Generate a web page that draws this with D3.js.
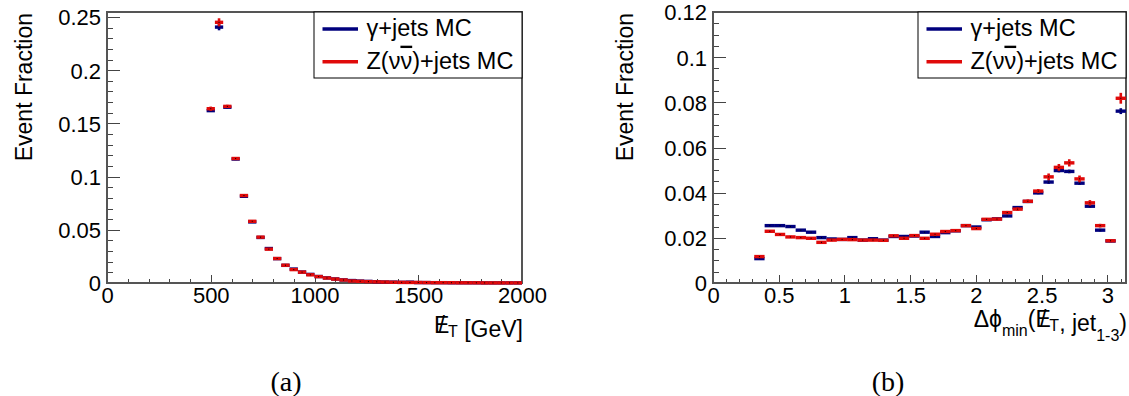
<!DOCTYPE html>
<html lang="en">
  <head>
    <meta charset="utf-8">
    <title>Event Fraction: gamma+jets vs Z(nunu)+jets</title>
    <script src="https://cdnjs.cloudflare.com/ajax/libs/d3/7.8.5/d3.min.js"></script>
    <style>
      html, body {
        padding: 0px;
        margin: 0px;
        background: #fff;
      }
      svg {
        font-family: "Liberation Sans", Arial, sans-serif;
        display: block;
      }
      .axis path { display: none; }
      .axis line { stroke: #444; stroke-width: 1; shape-rendering: crispEdges; }
      .axis text { font-size: 22px; fill: #000; }
      .frame { fill: none; stroke: #555; stroke-width: 1.2; shape-rendering: crispEdges; }
      .caption { font-family: "Liberation Serif", "DejaVu Serif", serif; font-size: 28px; }
    </style>
  </head>
  <body>
    <div id="chart"></div>
    <script>
      // ---- data ----
      // (a) missing ET, 40 GeV bins (centres)
      var metBins = [500, 540, 580, 620, 660, 700, 740, 780, 820, 860, 900, 940, 980, 1020, 1060,
                     1100, 1140, 1180, 1220, 1260, 1300, 1340, 1380, 1420, 1460, 1500, 1540, 1580,
                     1620, 1660, 1700, 1740, 1780, 1820, 1860, 1900, 1940, 1980];
      var metBinWidth = 40;
      var metGamma = [0.1620, 0.2405, 0.1652, 0.1165, 0.0815, 0.0574, 0.0428, 0.0324, 0.0229, 0.0166,
                      0.0131, 0.0103, 0.0081, 0.0061, 0.0048, 0.0038, 0.0029, 0.0023, 0.0018, 0.0015,
                      0.0011, 0.0009, 0.0008, 0.0006, 0.0008, 0.0004, 0.0004, 0.0003, 0.0003, 0.0002,
                      0.0002, 0.0002, 0.0002, 0.0001, 0.0001, 0.0001, 0.0001, 0.0001];
      var metZnn =   [0.1638, 0.2450, 0.1660, 0.1170, 0.0822, 0.0580, 0.0431, 0.0318, 0.0230, 0.0167,
                      0.0126, 0.0102, 0.0077, 0.0060, 0.0047, 0.0037, 0.0028, 0.0019, 0.0016, 0.0013,
                      0.0011, 0.0009, 0.0007, 0.0006, 0.0005, 0.0005, 0.0004, 0.0003, 0.0003, 0.0003,
                      0.0002, 0.0002, 0.0002, 0.0001, 0.0001, 0.0001, 0.0001, 0.0001];
      var metGammaErr = [0.0012, 0.0030, 0.0012, 0.0010, 0.0008, 0.0006, 0.0005, 0.0004, 0.0003, 0.0003,
                         0.0002, 0.0002, 0.0002, 0.0002, 0.0001, 0.0001, 0.0001, 0.0001, 0.0001, 0.0001,
                         0.0001, 0.0001, 0.0001, 0.0001, 0.0001, 0.0001, 0.0001, 0.0001, 0.0001, 0.0001,
                         0.0001, 0.0001, 0.0001, 0.0001, 0.0001, 0.0001, 0.0001, 0.0001];
      var metZnnErr =   [0.0020, 0.0038, 0.0015, 0.0012, 0.0010, 0.0008, 0.0006, 0.0005, 0.0004, 0.0003,
                         0.0003, 0.0002, 0.0002, 0.0002, 0.0001, 0.0001, 0.0001, 0.0001, 0.0001, 0.0001,
                         0.0001, 0.0001, 0.0001, 0.0001, 0.0001, 0.0001, 0.0001, 0.0001, 0.0001, 0.0001,
                         0.0001, 0.0001, 0.0001, 0.0001, 0.0001, 0.0001, 0.0001, 0.0001];

      // (b) delta phi min, pi/40 bins (centres)
      var dphiBins = [0.353, 0.432, 0.510, 0.589, 0.668, 0.746, 0.825, 0.903, 0.982, 1.060, 1.139, 1.217,
                      1.296, 1.374, 1.453, 1.532, 1.610, 1.689, 1.767, 1.846, 1.924, 2.003, 2.081, 2.160,
                      2.238, 2.317, 2.395, 2.474, 2.553, 2.631, 2.710, 2.788, 2.867, 2.945, 3.024, 3.102];
      var dphiBinWidth = Math.PI / 40;
      var dphiGamma = [0.0108, 0.0254, 0.0254, 0.0250, 0.0234, 0.0225, 0.0201, 0.0195, 0.0193, 0.0201,
                       0.0190, 0.0196, 0.0190, 0.0206, 0.0206, 0.0208, 0.0225, 0.0206, 0.0223, 0.0231,
                       0.0254, 0.0248, 0.0280, 0.0284, 0.0297, 0.0334, 0.0361, 0.0399, 0.0447, 0.0498,
                       0.0494, 0.0442, 0.0340, 0.0234, 0.0186, 0.0761];
      var dphiZnn =   [0.0117, 0.0229, 0.0215, 0.0204, 0.0201, 0.0198, 0.0180, 0.0190, 0.0193, 0.0192,
                       0.0190, 0.0190, 0.0189, 0.0209, 0.0198, 0.0210, 0.0198, 0.0216, 0.0228, 0.0232,
                       0.0254, 0.0241, 0.0282, 0.0283, 0.0312, 0.0327, 0.0362, 0.0407, 0.0470, 0.0512,
                       0.0532, 0.0461, 0.0355, 0.0254, 0.0187, 0.0818];
      var dphiGammaErr = [0.0004, 0.0004, 0.0004, 0.0004, 0.0004, 0.0004, 0.0004, 0.0004, 0.0004, 0.0004,
                          0.0004, 0.0004, 0.0004, 0.0004, 0.0004, 0.0004, 0.0004, 0.0004, 0.0004, 0.0004,
                          0.0004, 0.0004, 0.0005, 0.0005, 0.0005, 0.0005, 0.0006, 0.0006, 0.0008, 0.0008,
                          0.0008, 0.0008, 0.0007, 0.0006, 0.0005, 0.0013];
      var dphiZnnErr =   [0.0005, 0.0005, 0.0005, 0.0005, 0.0005, 0.0005, 0.0005, 0.0005, 0.0005, 0.0005,
                          0.0005, 0.0005, 0.0005, 0.0005, 0.0005, 0.0005, 0.0005, 0.0005, 0.0005, 0.0005,
                          0.0005, 0.0005, 0.0006, 0.0006, 0.0007, 0.0007, 0.0008, 0.0009, 0.0015, 0.0015,
                          0.0016, 0.0015, 0.0012, 0.0008, 0.0006, 0.0024];

      var seriesNames = ["\u03b3+jets MC", "Z(\u03bd\u03bd)+jets MC"];
      var seriesColors = ["#00007d", "#e00a0a"];

      var metXTicks = [0, 500, 1000, 1500, 2000];
      var metYTicks = [0, 0.05, 0.1, 0.15, 0.2, 0.25];
      var dphiXTicks = [0, 0.5, 1, 1.5, 2, 2.5, 3];
      var dphiYTicks = [0, 0.02, 0.04, 0.06, 0.08, 0.1, 0.12];

      var W = 1129, H = 396;
      var svg = d3.select("#chart").append("svg")
        .attr("width", W)
        .attr("height", H);
      svg.append("rect").attr("width", W).attr("height", H).attr("fill", "#fff");

      function drawPanel(p) {
        var x = d3.scaleLinear().domain(p.xDomain).range([p.left, p.right]);
        var y = d3.scaleLinear().domain(p.yDomain).range([p.bottom, p.top]);
        var g = svg.append("g");

        // minor + major ticks, pointing into the frame (ROOT style)
        g.append("g").attr("class", "axis")
          .attr("transform", "translate(0," + p.bottom + ")")
          .call(d3.axisBottom(x).tickValues(p.xMinor).tickSize(-4).tickSizeOuter(0).tickFormat(""));
        g.append("g").attr("class", "axis")
          .attr("transform", "translate(0," + p.bottom + ")")
          .call(d3.axisBottom(x).tickValues(p.xTicks).tickSize(-8).tickSizeOuter(0).tickFormat(function(d) { return String(d); }))
          .selectAll("text").attr("y", 20).attr("dy", 0);
        g.append("g").attr("class", "axis")
          .attr("transform", "translate(" + p.left + ",0)")
          .call(d3.axisLeft(y).tickValues(p.yMinor).tickSize(-6.3).tickSizeOuter(0).tickFormat(""));
        g.append("g").attr("class", "axis")
          .attr("transform", "translate(" + p.left + ",0)")
          .call(d3.axisLeft(y).tickValues(p.yTicks).tickSize(-12.5).tickSizeOuter(0).tickFormat(function(d) { return String(d); }))
          .selectAll("text").attr("x", -6).attr("dy", "0.36em");

        g.append("rect").attr("class", "frame")
          .attr("x", p.left).attr("y", p.top)
          .attr("width", p.right - p.left).attr("height", p.bottom - p.top);

        // histogram points: bin-wide bar, vertical error, tiny marker
        p.series.forEach(function(s, si) {
          var col = seriesColors[si];
          var pts = p.bins.map(function(c, i) { return { c: c, v: s.values[i], e: s.errors[i] }; });
          var sg = g.append("g");
          sg.selectAll(".bar").data(pts).enter().append("rect")
            .attr("x", function(d) { return x(d.c - p.binWidth / 2); })
            .attr("width", function(d) { return x(d.c + p.binWidth / 2) - x(d.c - p.binWidth / 2); })
            .attr("y", function(d) { return y(d.v) - 1.7; })
            .attr("height", 3.4)
            .attr("fill", col);
          sg.selectAll(".err").data(pts).enter().append("rect")
            .attr("x", function(d) { return x(d.c) - 1.3; })
            .attr("width", 2.6)
            .attr("y", function(d) { return y(d.v + d.e); })
            .attr("height", function(d) { return Math.max(0, y(d.v - d.e) - y(d.v + d.e)); })
            .attr("fill", col);
          sg.selectAll(".dot").data(pts).enter().append("rect")
            .attr("x", function(d) { return x(d.c) - 0.5; })
            .attr("y", function(d) { return y(d.v) - 0.5; })
            .attr("width", 1).attr("height", 1)
            .attr("fill", "#000");
        });

        // legend box in the top right corner
        var lx = p.right - 208, ly = p.top;
        g.append("rect")
          .attr("x", lx).attr("y", ly).attr("width", 208).attr("height", 66)
          .attr("fill", "#fff").attr("stroke", "#000").attr("stroke-width", 1);
        seriesNames.forEach(function(name, i) {
          var yy = ly + 17 + i * 32.7;
          g.append("line")
            .attr("x1", lx + 8.5).attr("x2", lx + 44)
            .attr("y1", yy).attr("y2", yy)
            .attr("stroke", seriesColors[i]).attr("stroke-width", 3.5);
          var t = g.append("text")
            .attr("x", lx + 52.5).attr("y", yy + 7)
            .style("font-size", "23.5px");
          if (i == 0) {
            t.text(name);
          } else {
            t.append("tspan").text("Z(\u03bd");
            t.append("tspan").style("text-decoration", "overline").text("\u03bd");
            t.append("tspan").text(")+jets MC");
          }
        });

        // y title
        g.append("text")
          .attr("transform", "translate(" + p.yTitleX + "," + (p.top + 1) + ") rotate(-90)")
          .attr("text-anchor", "end")
          .style("font-size", "23px")
          .text("Event Fraction");

        // x title
        var xt = g.append("text")
          .attr("x", p.right + 1).attr("y", p.xTitleY)
          .attr("text-anchor", "end")
          .style("font-size", "23px");
        p.xTitle(xt);

        // caption
        svg.append("text").attr("class", "caption")
          .attr("x", p.captionX).attr("y", 391)
          .attr("text-anchor", "middle")
          .text(p.caption);
      }

      // slashed E with subscript T
      function metSymbol(t) {
        t.append("tspan").text("E");
        t.append("tspan").attr("dx", "-0.47em").text("/");
        t.append("tspan").attr("dx", "0.19em").attr("dy", 4).style("font-size", "16px").text("T");
        t.append("tspan").attr("dy", -4).text("");
      }

      drawPanel({
        left: 107, right: 522, top: 12, bottom: 283,
        xDomain: [0, 2000], yDomain: [0, 0.2547],
        xTicks: metXTicks, xMinor: d3.range(0, 2001, 100),
        yTicks: metYTicks, yMinor: d3.range(0, 0.2501, 0.01),
        bins: metBins, binWidth: metBinWidth,
        series: [{ values: metGamma, errors: metGammaErr }, { values: metZnn, errors: metZnnErr }],
        yTitleX: 32, xTitleY: 333,
        xTitle: function(t) {
          metSymbol(t);
          t.append("tspan").text(" [GeV]");
        },
        captionX: 286, caption: "(a)"
      });

      drawPanel({
        left: 713, right: 1126, top: 12, bottom: 283,
        xDomain: [0, Math.PI], yDomain: [0, 0.12],
        xTicks: dphiXTicks, xMinor: d3.range(0, 3.15, 0.1),
        yTicks: dphiYTicks, yMinor: d3.range(0, 0.1201, 0.005),
        bins: dphiBins, binWidth: dphiBinWidth,
        series: [{ values: dphiGamma, errors: dphiGammaErr }, { values: dphiZnn, errors: dphiZnnErr }],
        yTitleX: 633, xTitleY: 327,
        xTitle: function(t) {
          t.append("tspan").text("\u0394\u03d5");
          t.append("tspan").attr("dy", 9).style("font-size", "16px").text("min");
          t.append("tspan").attr("dy", -9).text("(");
          metSymbol(t);
          t.append("tspan").text(", jet");
          t.append("tspan").attr("dy", 10).style("font-size", "16px").text("1-3");
          t.append("tspan").attr("dy", -10).text(")");
        },
        captionX: 888, caption: "(b)"
      });
    </script>
  </body>
</html>
